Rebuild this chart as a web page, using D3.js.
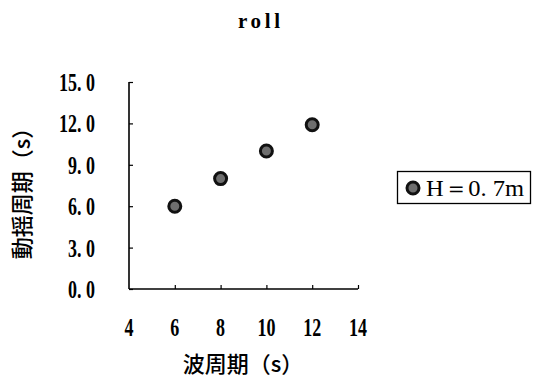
<!DOCTYPE html>
<html>
<head>
<meta charset="utf-8">
<script src="https://cdn.jsdelivr.net/npm/d3@7/dist/d3.min.js"></script>
<style>
  html, body { margin: 0; padding: 0; background: #fff; }
  svg { display: block; }
</style>
</head>
<body>
<script>
// Roll period vs. wave period, wave height H = 0.7 m
const wavePeriods = [6, 8, 10, 12];
const rollPeriods = [6.0, 8.0, 10.0, 11.9];
const xTicks = [4, 6, 8, 10, 12, 14];
const yTicks = [0, 3, 6, 9, 12, 15];
const yTickLabels = ["0. 0", "3. 0", "6. 0", "9. 0", "12. 0", "15. 0"];
const seriesName = "H＝0. 7m";
const titleText = "roll";
const xTitle = "波周期（s）";
const yTitle = "動揺周期（s）";

const W = 533, H = 383;
const plot = { left: 129, right: 358, top: 82, bottom: 289 };

const numFont = "'Liberation Serif', 'DejaVu Serif', serif";
const cjkFont = "'Noto Sans CJK JP', 'Noto Sans CJK SC', sans-serif";

const svg = d3.select("body").append("svg")
  .attr("width", W).attr("height", H);

const x = d3.scaleLinear().domain([4, 14]).range([plot.left, plot.right]);
const y = d3.scaleLinear().domain([0, 15]).range([plot.bottom, plot.top]);

// Title
svg.append("text")
  .attr("x", 238).attr("y", 28)
  .attr("font-family", numFont)
  .attr("font-weight", "bold")
  .attr("font-size", 21)
  .attr("textLength", 42)
  .attr("lengthAdjust", "spacing")
  .text(titleText);

// Axes with inward ticks
const xAxis = d3.axisBottom(x).tickValues(xTicks).tickSize(-4).tickFormat("");
const yAxis = d3.axisLeft(y).tickValues(yTicks).tickSize(-4).tickFormat("");

const gx = svg.append("g").attr("transform", `translate(0,${plot.bottom})`).call(xAxis);
const gy = svg.append("g").attr("transform", `translate(${plot.left},0)`).call(yAxis);
[gx, gy].forEach(g => {
  g.select(".domain").attr("stroke", "#000").attr("stroke-width", 1.6);
  g.selectAll(".tick line").attr("stroke", "#000").attr("stroke-width", 1.2);
});
gx.select(".domain").attr("d", `M${plot.left},0H${plot.right}`);
gy.select(".domain").attr("d", `M0,${plot.top}V${plot.bottom}`);
gx.selectAll(".tick").filter(d => d === 4).remove();

// Tick labels (narrow bold serif digits)
svg.append("g").selectAll("text")
  .data(xTicks)
  .join("text")
  .attr("transform", d => `translate(${x(d)},336) scale(0.72,1)`)
  .attr("text-anchor", "middle")
  .attr("font-family", numFont)
  .attr("font-weight", "bold")
  .attr("font-size", 25)
  .text(d => d);

svg.append("g").selectAll("text")
  .data(yTicks)
  .join("text")
  .attr("transform", d => `translate(95,${y(d) + 9}) scale(0.72,1)`)
  .attr("text-anchor", "end")
  .attr("font-family", numFont)
  .attr("font-weight", "bold")
  .attr("font-size", 25)
  .text((d, i) => yTickLabels[i]);

// Axis titles
svg.append("text")
  .attr("x", 243).attr("y", 372)
  .attr("text-anchor", "middle")
  .attr("font-family", cjkFont)
  .attr("font-weight", 500)
  .attr("font-size", 22)
  .text(xTitle);

svg.append("text")
  .attr("transform", "translate(30,188) rotate(-90)")
  .attr("text-anchor", "middle")
  .attr("font-family", cjkFont)
  .attr("font-weight", 500)
  .attr("font-size", 22)
  .text(yTitle);

// Data points
function marker(sel) {
  sel.attr("r", 6)
    .attr("fill", "#6e6e6e")
    .attr("stroke", "#111")
    .attr("stroke-width", 3);
}
svg.append("g").selectAll("circle")
  .data(wavePeriods.map((p, i) => [p, rollPeriods[i]]))
  .join("circle")
  .attr("cx", d => x(d[0]))
  .attr("cy", d => y(d[1]))
  .call(marker);

// Legend
const lg = svg.append("g");
lg.append("rect")
  .attr("x", 397.5).attr("y", 171.5)
  .attr("width", 133).attr("height", 32)
  .attr("fill", "#fff").attr("stroke", "#000").attr("stroke-width", 1.3);
lg.append("circle").attr("cx", 413).attr("cy", 188).call(marker);
lg.append("text")
  .attr("x", 426).attr("y", 196)
  .attr("font-family", numFont)
  .attr("font-size", 23)
  .attr("textLength", 98)
  .attr("lengthAdjust", "spacingAndGlyphs")
  .text(seriesName);
</script>
</body>
</html>
